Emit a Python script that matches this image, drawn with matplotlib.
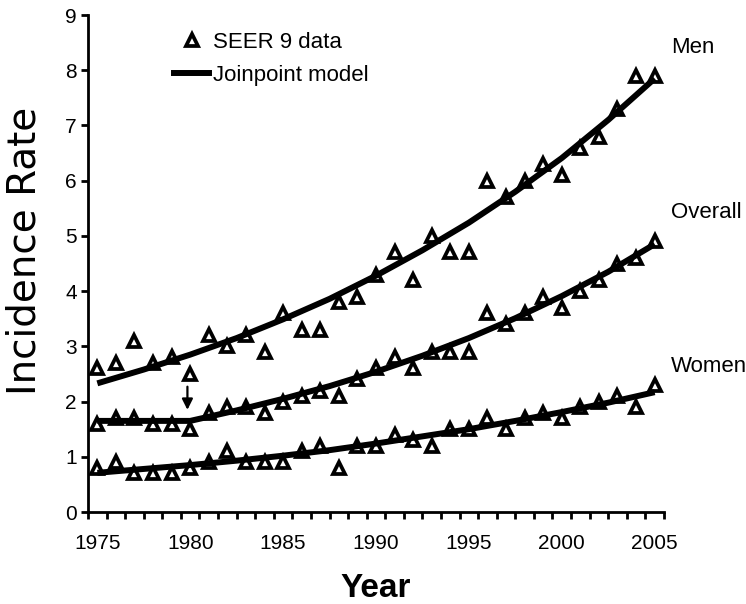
import numpy as np
import matplotlib
matplotlib.use("Agg")
import matplotlib.pyplot as plt
from matplotlib.lines import Line2D

years = np.arange(1975, 2006)

men = [2.6, 2.7, 3.1, 2.7, 2.8, 2.5, 3.2, 3.0, 3.2, 2.9, 3.6, 3.3, 3.3, 3.8, 3.9,
       4.3, 4.7, 4.2, 5.0, 4.7, 4.7, 6.0, 5.7, 6.0, 6.3, 6.1, 6.6, 6.8, 7.3, 7.9, 7.9]
overall = [1.6, 1.7, 1.7, 1.6, 1.6, 1.5, 1.8, 1.9, 1.9, 1.8, 2.0, 2.1, 2.2, 2.1, 2.4,
           2.6, 2.8, 2.6, 2.9, 2.9, 2.9, 3.6, 3.4, 3.6, 3.9, 3.7, 4.0, 4.2, 4.5, 4.6, 4.9]
women = [0.8, 0.9, 0.7, 0.7, 0.7, 0.8, 0.9, 1.1, 0.9, 0.9, 0.9, 1.1, 1.2, 0.8, 1.2,
         1.2, 1.4, 1.3, 1.2, 1.5, 1.5, 1.7, 1.5, 1.7, 1.8, 1.7, 1.9, 2.0, 2.1, 1.9, 2.3]

# joinpoint model
fit_years = [1975, 1977.5, 1980, 1982.5, 1985, 1987.5, 1990,
             1992.5, 1995, 1997.5, 2000, 2002.5, 2005]
men_fit = [2.33, 2.58, 2.85, 3.15, 3.49, 3.86, 4.28, 4.74, 5.24, 5.80, 6.41, 7.10, 7.85]
overall_fit = [1.65, 1.65, 1.65, 1.84, 2.05, 2.28, 2.54, 2.83, 3.15, 3.51, 3.91, 4.35, 4.85]
women_fit = [0.71, 0.78, 0.85, 0.93, 1.02, 1.12, 1.24, 1.37, 1.50, 1.65, 1.81, 1.98, 2.17]

label_years = [1975, 1980, 1985, 1990, 1995, 2000, 2005]
series_names = ['Men', 'Overall', 'Women']
name_y = [8.42, 5.42, 2.64]
joinpoint = (1979.85, 2.32, 1.8)  # arrow x, from y, to y

plt.rcParams['font.family'] = ['Liberation Sans', 'DejaVu Sans']

fig = plt.figure(figsize=(7.46, 6.04), dpi=100)
ax = fig.add_axes([0.118, 0.1523, 0.772, 0.8228])

for obs in (men, overall, women):
    ax.plot(years, obs, linestyle='none', marker='^', markersize=8.5,
            markerfacecolor='white', markeredgecolor='black', markeredgewidth=2.7, zorder=3)
for fit in (men_fit, overall_fit, women_fit):
    ax.plot(fit_years, fit, color='black', linewidth=4.3, solid_capstyle='butt',
            solid_joinstyle='round', zorder=4)

ax.annotate('', xy=(joinpoint[0], joinpoint[2]), xytext=(joinpoint[0], joinpoint[1]),
            arrowprops=dict(arrowstyle='-|>', color='black', lw=1.6, mutation_scale=16))

ax.set_xlim(1974.5, 2005.5)
ax.set_ylim(0, 9)
ax.set_yticks(range(0, 10))
ax.set_xticks(np.arange(1974.5, 2006, 1.0))
ax.set_xticklabels([])
ax.set_xticks(label_years, minor=True)
ax.set_xticklabels([str(y) for y in label_years], minor=True)
ax.tick_params(axis='both', which='major', direction='out', length=5, width=2, labelsize=15, pad=3)
ax.tick_params(axis='x', which='minor', length=0, labelsize=15, pad=16)

for s in ('top', 'right'):
    ax.spines[s].set_visible(False)
for s in ('left', 'bottom'):
    ax.spines[s].set_linewidth(2)

ax.set_ylabel('Incidence Rate', fontsize=28, family='DejaVu Sans')
ax.yaxis.set_label_coords(-0.077, 0.525)
ax.set_xlabel('Year', fontsize=24, fontweight='bold', labelpad=14)

for name, y in zip(series_names, name_y):
    ax.text(1.012, y, name, transform=ax.get_yaxis_transform(), fontsize=16, va='center')

handles = [Line2D([], [], linestyle='none', marker='^', markersize=8.5, markerfacecolor='white',
                  markeredgecolor='black', markeredgewidth=2.7),
           Line2D([], [], color='black', linewidth=4.3)]
ax.legend(handles, ['SEER 9 data', 'Joinpoint model'], loc='upper left',
          bbox_to_anchor=(0.218, 0.966), bbox_transform=fig.transFigure, frameon=False,
          fontsize=16, handlelength=1.6, handletextpad=0.15, labelspacing=0.55, borderpad=0)

fig.savefig('out.png', dpi=100)
